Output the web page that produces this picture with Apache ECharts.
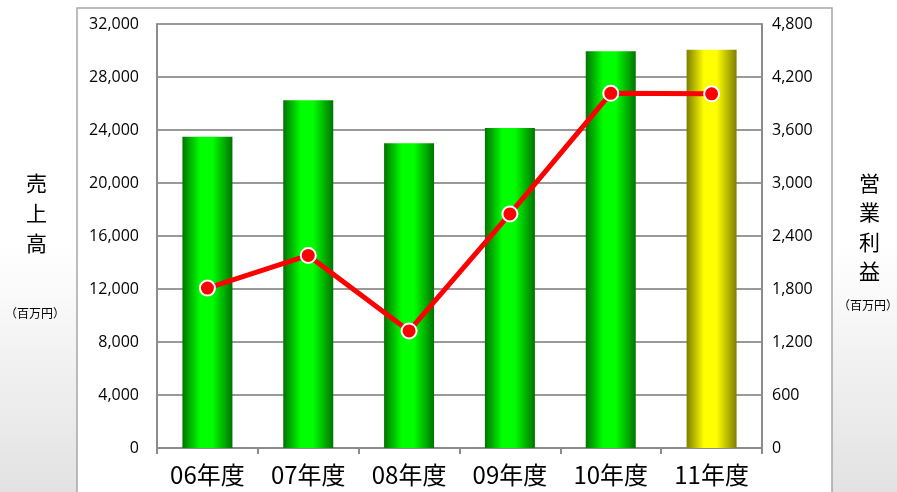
<!DOCTYPE html>
<html>
<head>
<meta charset="utf-8">
<style>
  html, body { margin: 0; padding: 0; }
  #chart { width: 897px; height: 492px; }
</style>
<script src="https://cdn.jsdelivr.net/npm/echarts@6/dist/echarts.min.js"></script>
</head>
<body>
<div id="chart"></div>
<script>
const categories = ['06年度', '07年度', '08年度', '09年度', '10年度', '11年度'];
const salesValues = [23500, 26250, 23000, 24150, 29950, 30050];
const profitValues = [1810, 2180, 1325, 2650, 4015, 4010];
const salesTicks = { min: 0, max: 32000, interval: 4000 };
const profitTicks = { min: 0, max: 4800, interval: 600 };

const numFont = '"Open Sans", "Liberation Sans", sans-serif';
const jpFont = '"Noto Sans CJK JP", sans-serif';

function barGradient(dark, light) {
    return new echarts.graphic.LinearGradient(0, 0, 1, 0, [
        { offset: 0, color: dark },
        { offset: 0.35, color: light },
        { offset: 0.6, color: light },
        { offset: 1, color: dark }
    ]);
}

const chart = echarts.init(document.getElementById('chart'));

const option = {
    animation: false,
    graphic: [
        {
            type: 'rect', z: -10, silent: true,
            shape: { x: 0, y: 0, width: 897, height: 492 },
            style: {
                fill: new echarts.graphic.LinearGradient(0, 0, 0, 1, [
                    { offset: 0, color: '#ffffff' },
                    { offset: 0.5, color: '#ffffff' },
                    { offset: 1, color: '#e2e2e2' }
                ])
            }
        },
        {
            type: 'rect', z: -9, silent: true,
            shape: { x: 77, y: 8, width: 755, height: 500 },
            style: { fill: '#ffffff', stroke: '#a6a6a6', lineWidth: 1.5 }
        },
        {
            type: 'text', left: 26, top: 168,
            style: { text: '売\n上\n高', font: '21px ' + jpFont, fill: '#000', lineHeight: 30, align: 'center' }
        },
        {
            type: 'text', left: 5, top: 307,
            style: { text: '（百万円）', font: '12px ' + jpFont, fill: '#000' }
        },
        {
            type: 'text', left: 859, top: 168,
            style: { text: '営\n業\n利\n益', font: '21px ' + jpFont, fill: '#000', lineHeight: 29.5, align: 'center' }
        },
        {
            type: 'text', left: 838, top: 299,
            style: { text: '（百万円）', font: '12px ' + jpFont, fill: '#000' }
        }
    ],
    grid: { left: 157, right: 135, top: 24, bottom: 44 },
    xAxis: {
        type: 'category',
        data: categories,
        axisLine: { lineStyle: { color: '#8c8c8c', width: 2 } },
        axisTick: { show: true, length: 6, lineStyle: { color: '#8c8c8c', width: 2 } },
        axisLabel: { color: '#000', fontFamily: jpFont, fontSize: 24, margin: 15 }
    },
    yAxis: [
        {
            type: 'value',
            min: salesTicks.min, max: salesTicks.max, interval: salesTicks.interval,
            axisLine: { show: true, lineStyle: { color: '#8c8c8c', width: 2 } },
            axisTick: { show: false },
            splitLine: { lineStyle: { color: '#999999', width: 2 } },
            axisLabel: {
                color: '#000', fontFamily: numFont, fontSize: 16, margin: 18,
                formatter: v => v.toLocaleString('en-US')
            }
        },
        {
            type: 'value',
            min: profitTicks.min, max: profitTicks.max, interval: profitTicks.interval,
            axisLine: { show: true, lineStyle: { color: '#8c8c8c', width: 2 } },
            axisTick: { show: false },
            splitLine: { show: false },
            axisLabel: {
                color: '#000', fontFamily: numFont, fontSize: 16, margin: 10,
                formatter: v => v.toLocaleString('en-US')
            }
        }
    ],
    series: [
        {
            name: '売上高',
            type: 'bar',
            barWidth: 50,
            data: salesValues.map((v, i) => ({
                value: v,
                itemStyle: {
                    color: i === salesValues.length - 1
                        ? barGradient('#7f7f00', '#ffff00')
                        : barGradient('#007400', '#00ff00')
                }
            }))
        },
        {
            name: '営業利益',
            type: 'line',
            yAxisIndex: 1,
            data: profitValues,
            symbol: 'circle',
            symbolSize: 15,
            lineStyle: { color: '#ff0000', width: 5 },
            itemStyle: { color: '#ff0000', borderColor: '#ffffff', borderWidth: 2 }
        }
    ]
};

chart.setOption(option);
</script>
</body>
</html>
